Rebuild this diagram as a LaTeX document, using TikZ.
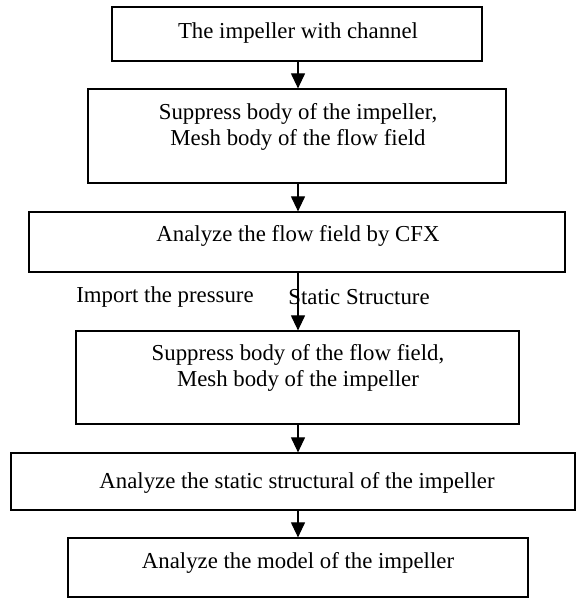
\documentclass[tikz,border=0pt]{standalone}
\usepackage{fontspec}
\setmainfont{Liberation Serif}
\usetikzlibrary{arrows.meta}
\begin{document}
\begin{tikzpicture}[x=0.5pt,y=-0.5pt,
  box/.style={draw=black, line width=0.6pt, rectangle, inner sep=0pt},
  txt/.style={align=center, inner sep=0pt, font=\fontsize{11.4pt}{13.3pt}\selectfont},
  flow/.style={line width=0.55pt, -{Triangle[width=7pt,length=7.5pt]}}]
\useasboundingbox (0,0) rectangle (576,598);
\coordinate (ax) at (298,0);
% boxes
\node[box, minimum width=185pt, minimum height=27pt] (b1) at (297,34) {};
\node[box, minimum width=209pt, minimum height=47pt] (b2) at (297,136) {};
\node[box, minimum width=268pt, minimum height=30pt] (b3) at (297,242) {};
\node[box, minimum width=221.5pt, minimum height=46.5pt] (b4) at (297.5,377.5) {};
\node[box, minimum width=282pt, minimum height=28.5pt] (b5) at (293,481.5) {};
\node[box, minimum width=230pt, minimum height=29.5pt] (b6) at (298,567.5) {};
% texts
\node[txt] (t1) at (298,33) {The impeller with channel};
\node[txt] (t2) at (298,127) {Suppress body of the impeller,\\Mesh body of the flow field};
\node[txt] (t3) at (298,236) {Analyze the flow field by CFX};
\node[txt] (t4) at (298,368) {Suppress body of the flow field,\\Mesh body of the impeller};
\node[txt] (t5) at (297,483) {Analyze the static structural of the impeller};
\node[txt] (t6) at (298,563) {Analyze the model of the impeller};
\node[txt, anchor=west] (l1) at (76,297) {Import the pressure};
\node[txt, anchor=west] (l2) at (288,297) {Static Structure};
% arrows
\draw[flow] (b1.south -| ax) -- (b2.north -| ax);
\draw[flow] (b2.south -| ax) -- (b3.north -| ax);
\draw[flow] (b3.south -| ax) -- (b4.north -| ax);
\draw[flow] (b4.south -| ax) -- (b5.north -| ax);
\draw[flow] (b5.south -| ax) -- (b6.north -| ax);
\end{tikzpicture}
\end{document}
